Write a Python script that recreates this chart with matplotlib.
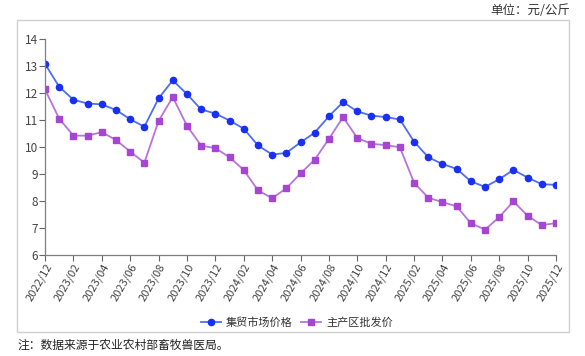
import matplotlib.pyplot as plt
from matplotlib.patches import Rectangle

plt.rcParams['font.family'] = ['Noto Sans CJK SC', 'DejaVu Sans']

# monthly prices, 2022/12 - 2025/12
months = ['2022/12', '2023/01', '2023/02', '2023/03', '2023/04', '2023/05', '2023/06',
          '2023/07', '2023/08', '2023/09', '2023/10', '2023/11', '2023/12',
          '2024/01', '2024/02', '2024/03', '2024/04', '2024/05', '2024/06',
          '2024/07', '2024/08', '2024/09', '2024/10', '2024/11', '2024/12',
          '2025/01', '2025/02', '2025/03', '2025/04', '2025/05', '2025/06',
          '2025/07', '2025/08', '2025/09', '2025/10', '2025/11', '2025/12']
market = [13.08, 12.23, 11.75, 11.61, 11.58, 11.37, 11.03, 10.75, 11.80, 12.47,
          11.96, 11.39, 11.24, 10.98, 10.68, 10.06, 9.72, 9.78, 10.17, 10.53,
          11.14, 11.66, 11.32, 11.16, 11.11, 11.02, 10.20, 9.62, 9.37, 9.19,
          8.73, 8.52, 8.81, 9.15, 8.87, 8.62, 8.60]
wholesale = [12.13, 11.05, 10.42, 10.42, 10.55, 10.26, 9.83, 9.42, 10.96, 11.85,
             10.79, 10.05, 9.96, 9.62, 9.15, 8.40, 8.10, 8.47, 9.02, 9.53,
             10.30, 11.11, 10.33, 10.12, 10.07, 9.99, 8.68, 8.12, 7.96, 7.80,
             7.18, 6.94, 7.40, 7.99, 7.45, 7.11, 7.18]

fig = plt.figure(figsize=(5.85, 3.56), dpi=100)
W, H = 585, 356
ax = fig.add_axes([45 / W, 1 - 255 / H, (556 - 45) / W, (255 - 39) / H])

x = list(range(len(months)))
ax.plot(x, market, color='#4d6ef5', lw=1.3, marker='o', ms=4.5,
        mfc='#1a30f0', mec='#1a30f0', label='集贸市场价格')
ax.plot(x, wholesale, color='#b874dc', lw=1.3, marker='s', ms=4.2,
        mfc='#a645d4', mec='#a645d4', label='主产区批发价')

ax.set_xlim(0, len(months) - 1)
ax.set_ylim(6, 14)
ax.set_yticks(range(6, 15))
ax.set_xticks(x[::2])
ax.set_xticklabels(months[::2], rotation=60, ha='right', rotation_mode='anchor')
ax.tick_params(axis='both', colors='#666666', labelcolor='#444444', labelsize=8,
               length=4, width=0.8)
ax.tick_params(axis='y', labelsize=8.5, pad=1)
ax.tick_params(axis='x', pad=1)
for s in ['top', 'right']:
    ax.spines[s].set_visible(False)
for s in ['left', 'bottom']:
    ax.spines[s].set_color('#7f7f7f')
    ax.spines[s].set_linewidth(0.9)

leg = fig.legend(loc='center', bbox_to_anchor=(297 / W, 1 - 323 / H), ncol=2,
                 frameon=False, fontsize=8, handlelength=1.8, columnspacing=0.8,
                 handletextpad=0.4, labelcolor='#333333')

# outer frame
fig.patches.append(Rectangle((17 / W, 1 - 332 / H), (569 - 17) / W, (332 - 20) / H,
                             transform=fig.transFigure, fill=False,
                             edgecolor='#d0d0d0', lw=1.0))

fig.text(570 / W, 1 - 11 / H, '单位：元/公斤', ha='right', va='center',
         fontsize=9, color='#333333')
fig.text(17 / W, 1 - 345 / H, '注：数据来源于农业农村部畜牧兽医局。', ha='left',
         va='center', fontsize=8.5, color='#222222')

fig.savefig('out.png', dpi=100)
